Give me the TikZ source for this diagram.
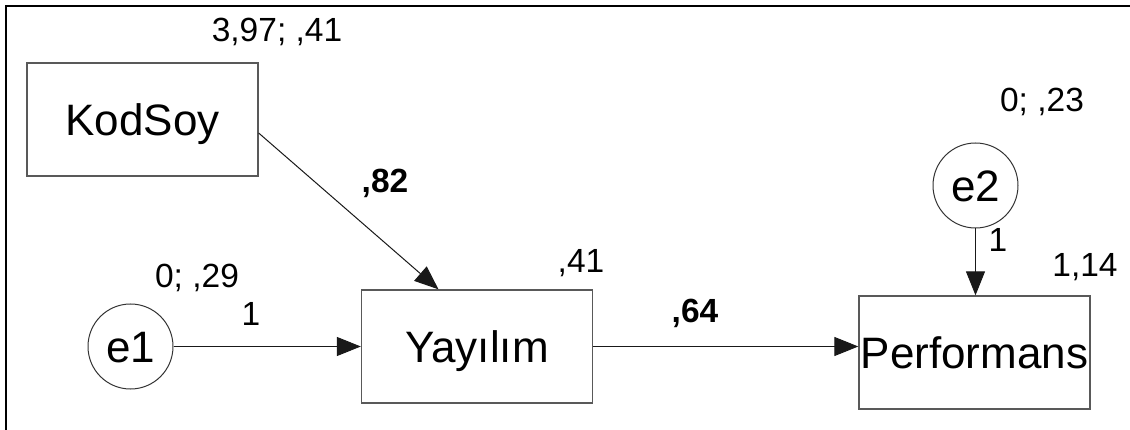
\documentclass[tikz,border=0pt]{standalone}
\usepackage{fontspec}
\setmainfont{Liberation Sans}
\usetikzlibrary{arrows.meta}
\newcommand\biglbl{\fontsize{44}{52}\selectfont}
\newcommand\smalllbl{\fontsize{33.5}{40}\selectfont}
\begin{document}
\begin{tikzpicture}[x=1pt,y=-1pt,
  var/.style={draw=black!65, line width=1.3pt, minimum width=231pt,
    minimum height=113pt, inner sep=0pt, font=\biglbl,
    text height=31.5pt, text depth=0pt},
  err/.style={circle, draw=black!80, line width=1pt, minimum size=85pt,
    inner sep=0pt, font=\biglbl, text height=31.5pt, text depth=0pt},
  est/.style={anchor=base, font=\smalllbl, inner sep=0pt},
  coef/.style={est, font=\smalllbl\bfseries},
  link/.style={draw=black!90, line width=1pt,
    -{Triangle[length=24pt,width=19pt]}}
]
\useasboundingbox (0,0) rectangle (1130,430);

% outer frame (top and left edges)
\draw[line width=2.6pt] (6,432) -- (6,6) -- (1132,6);

% observed variables
\node[var] (kod)  at (142.5,119.5) {KodSoy};
\node[var] (yay)  at (477,346.5)   {Yayılım};
\node[var] (perf) at (974.5,352.5) {Performans};

% error terms
\node[err] (e1) at (130.5,346.5) {e1};
\node[err] (e2) at (975.5,185.5) {e2};

% regression paths
\draw[link] ([yshift=-13.5pt]kod.east) -- ([xshift=-38.5pt]yay.north);
\draw[link] (e1) -- (yay);
\draw[link] (yay.east) -- (yay.east -| perf.west);
\draw[link] (e2.south) -- (e2.south |- perf.north);

% means, variances and weights
\node[est]  (m1) at (277,42)   {3,97; ,41};
\node[est]  (m2) at (197,288)  {0; ,29};
\node[est]  (w1) at (251,326)  {1};
\node[est]  (r1) at (581,273)  {,41};
\node[coef] (b1) at (385,193)  {,82};
\node[coef] (b2) at (695,323)  {,64};
\node[est]  (m3) at (1042,112) {0; ,23};
\node[est]  (w2) at (998,252)  {1};
\node[est]  (r2) at (1085,277) {1,14};
\end{tikzpicture}
\end{document}
